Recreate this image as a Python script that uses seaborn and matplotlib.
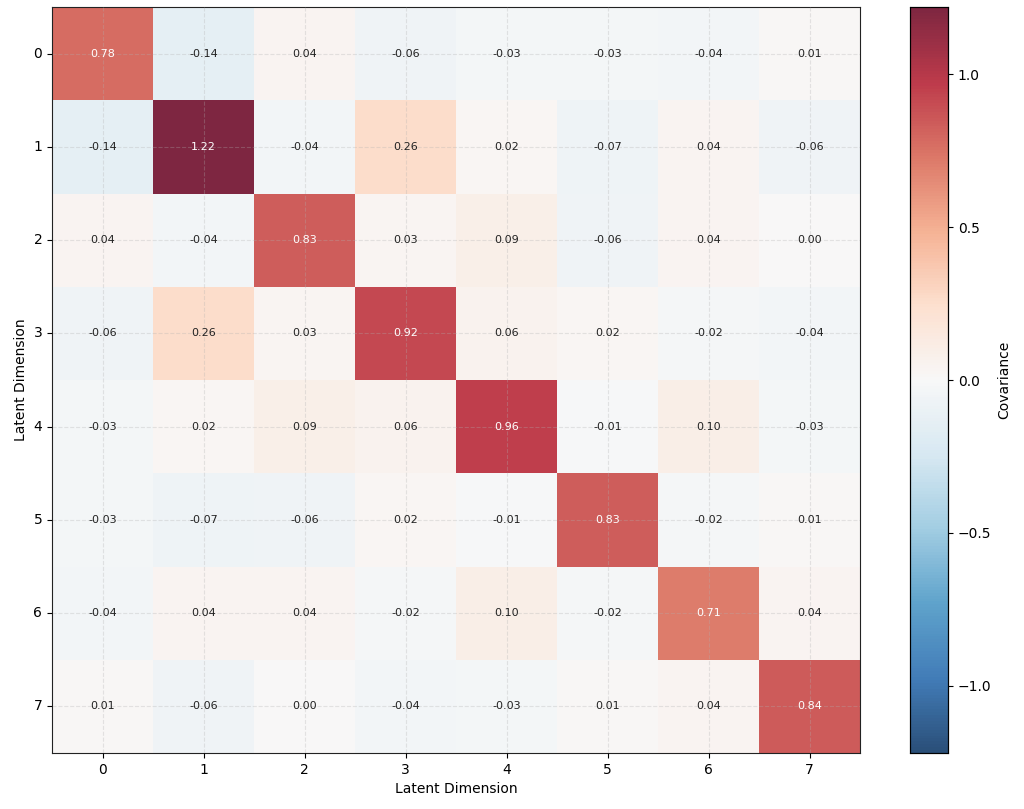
import seaborn as sns
import matplotlib.pyplot as plt
import numpy as np

# --- Covariance values ---
dims = [0, 1, 2, 3, 4, 5, 6, 7]
row0 = [0.78, -0.14, 0.04, -0.06, -0.03, -0.03, -0.04, 0.01]
row1 = [-0.14, 1.22, -0.04, 0.26, 0.02, -0.07, 0.04, -0.06]
row2 = [0.04, -0.04, 0.83, 0.03, 0.09, -0.06, 0.04, 0.00]
row3 = [-0.06, 0.26, 0.03, 0.92, 0.06, 0.02, -0.02, -0.04]
row4 = [-0.03, 0.02, 0.09, 0.06, 0.96, -0.01, 0.10, -0.03]
row5 = [-0.03, -0.07, -0.06, 0.02, -0.01, 0.83, -0.02, 0.01]
row6 = [-0.04, 0.04, 0.04, -0.02, 0.10, -0.02, 0.71, 0.04]
row7 = [0.01, -0.06, 0.00, -0.04, -0.03, 0.01, 0.04, 0.84]

cov = np.array([row0, row1, row2, row3, row4, row5, row6, row7])
vmax = np.abs(cov).max()

fig = plt.figure(figsize=(10.24, 8.09), dpi=100)
ax = fig.add_axes([52 / 1024, 56 / 809, 808 / 1024, 746 / 809])
cax = fig.add_axes([910 / 1024, 56 / 809, 38 / 1024, 746 / 809])

sns.heatmap(cov, ax=ax, cbar_ax=cax, cmap="RdBu_r", vmin=-vmax, vmax=vmax,
            alpha=0.85, xticklabels=dims, yticklabels=dims,
            cbar_kws={"label": "Covariance"})

# annotations
for i in range(len(dims)):
    for j in range(len(dims)):
        v = cov[i, j]
        ax.text(j + 0.5, i + 0.5, f"{v:.2f}", ha="center", va="center",
                fontsize=8, color="white" if abs(v) > 0.5 else "#222222")

ax.set_xlabel("Latent Dimension", fontsize=10)
ax.set_ylabel("Latent Dimension", fontsize=10)
ax.tick_params(axis="both", labelsize=10, length=3.5)
ax.set_yticklabels(dims, rotation=0)
ax.set_xticklabels(dims, rotation=0)

for sp in ax.spines.values():
    sp.set_visible(True)
    sp.set_color("#222222")
    sp.set_linewidth(0.8)
for sp in cax.spines.values():
    sp.set_visible(True)
    sp.set_linewidth(0.8)

ax.set_axisbelow(False)
ax.grid(True, linestyle="--", alpha=0.3, color="#b0b0b0", linewidth=0.8)
cax.tick_params(labelsize=10)

fig.savefig("out.png", dpi=100)
plt.close()
